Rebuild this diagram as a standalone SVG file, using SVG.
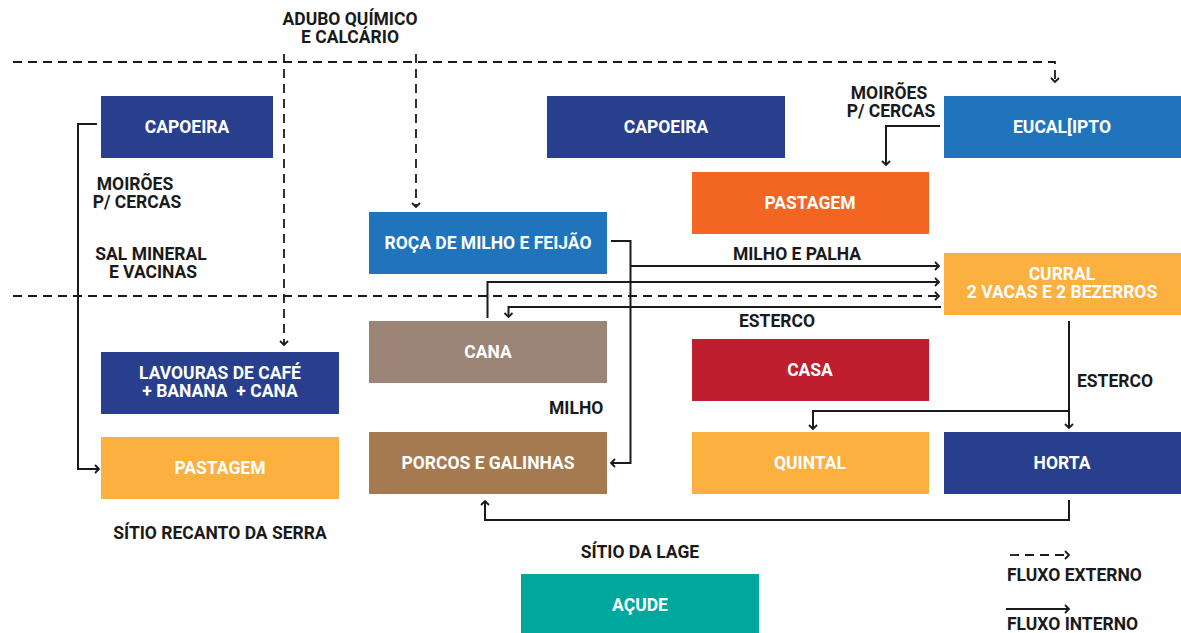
<svg xmlns="http://www.w3.org/2000/svg" width="1181" height="633" viewBox="0 0 1181 633">
<style>
text{font-family:Roboto,"Liberation Sans",sans-serif;font-weight:bold;font-size:17.5px}
.w{fill:#ffffff;text-anchor:middle}
.k{fill:#1a1a1a}
.c{text-anchor:middle}
.ln{fill:none;stroke:#1a1a1a;stroke-width:2}
.ds{fill:none;stroke:#1a1a1a;stroke-width:1.8;stroke-dasharray:9 6}
</style>
<defs>
<marker id="ah" markerUnits="userSpaceOnUse" markerWidth="12" markerHeight="12" viewBox="-6 -6 12 12" refX="0" refY="0" orient="auto">
<path d="M-4,-4 L0,0 L-4,4" fill="none" stroke="#1a1a1a" stroke-width="1.8"/>
</marker>
</defs>
<rect width="1181" height="633" fill="#ffffff"/>
<g id="connectors">
<path class="ds" d="M13,62 H1055 V82" marker-end="url(#ah)"/>
<path class="ds" d="M284,54 V345" marker-end="url(#ah)"/>
<path class="ds" d="M416,54 V207" marker-end="url(#ah)"/>
<path class="ds" d="M13,296 H939" marker-end="url(#ah)"/>
<path class="ln" d="M97,124 H78 V469 H99" marker-end="url(#ah)"/>
<path class="ln" d="M940,126 H886 V165" marker-end="url(#ah)"/>
<path class="ln" d="M611,241 H630.5 V463 H611" marker-end="url(#ah)"/>
<path class="ln" d="M630.5,266 H939" marker-end="url(#ah)"/>
<path class="ln" d="M487.5,318 V282 H939" marker-end="url(#ah)"/>
<path class="ln" d="M941,307 H508.5 V317" marker-end="url(#ah)"/>
<path class="ln" d="M1069,321 V428" marker-end="url(#ah)"/>
<path class="ln" d="M1069,411 H813 V429" marker-end="url(#ah)"/>
<path class="ln" d="M1069,500 V520 H485 V501" marker-end="url(#ah)"/>
<path class="ds" d="M1010,555 H1069" marker-end="url(#ah)"/>
<path class="ln" d="M1006,609 H1069" marker-end="url(#ah)"/>
</g>
<g id="capoeira-left"><rect x="101" y="96" width="172" height="62" fill="#273f8d"/><text class="w" x="187" y="133">CAPOEIRA</text></g>
<g id="capoeira-mid"><rect x="547" y="96" width="238" height="62" fill="#273f8d"/><text class="w" x="666" y="133">CAPOEIRA</text></g>
<g id="eucalipto"><rect x="944" y="96" width="237" height="62" fill="#1f74bb"/><text class="w" x="1062" y="133">EUCAL[IPTO</text></g>
<g id="pastagem-orange"><rect x="692" y="172" width="237" height="62" fill="#f26522"/><text class="w" x="810" y="209">PASTAGEM</text></g>
<g id="roca"><rect x="369" y="212" width="238" height="62" fill="#1f74bb"/><text class="w" x="488" y="249">ROÇA DE MILHO E FEIJÃO</text></g>
<g id="curral"><rect x="944" y="253" width="237" height="62" fill="#fbb040"/><text class="w" x="1062" y="280">CURRAL</text><text class="w" x="1062" y="298">2 VACAS E 2 BEZERROS</text></g>
<g id="cana"><rect x="369" y="321" width="238" height="62" fill="#9c8576"/><text class="w" x="488" y="358">CANA</text></g>
<g id="casa"><rect x="692" y="339" width="237" height="62" fill="#be1e2d"/><text class="w" x="810" y="376">CASA</text></g>
<g id="lavouras"><rect x="101" y="352" width="238" height="62" fill="#273f8d"/><text class="w" x="220" y="379">LAVOURAS DE CAFÉ</text><text class="w" x="220" y="397" xml:space="preserve">+ BANANA  + CANA</text></g>
<g id="pastagem-yellow"><rect x="101" y="437" width="238" height="62" fill="#fbb040"/><text class="w" x="220" y="474">PASTAGEM</text></g>
<g id="porcos"><rect x="369" y="432" width="238" height="62" fill="#a67a50"/><text class="w" x="488" y="469">PORCOS E GALINHAS</text></g>
<g id="quintal"><rect x="692" y="432" width="237" height="62" fill="#fbb040"/><text class="w" x="810" y="469">QUINTAL</text></g>
<g id="horta"><rect x="944" y="432" width="237" height="62" fill="#273f8d"/><text class="w" x="1062" y="469">HORTA</text></g>
<g id="acude"><rect x="521" y="574" width="238" height="59" fill="#00a79d"/><text class="w" x="640" y="611">AÇUDE</text></g>
<g id="labels">
<text class="k c" x="350" y="25">ADUBO QUÍMICO</text>
<text class="k c" x="350" y="43">E CALCÁRIO</text>
<text class="k c" x="135" y="190">MOIRÕES</text>
<text class="k c" x="137" y="208">P/ CERCAS</text>
<text class="k c" x="151" y="260">SAL MINERAL</text>
<text class="k c" x="153" y="278">E VACINAS</text>
<text class="k c" x="889" y="99">MOIRÕES</text>
<text class="k c" x="891" y="117">P/ CERCAS</text>
<text class="k c" x="797" y="260">MILHO E PALHA</text>
<text class="k c" x="777" y="327">ESTERCO</text>
<text class="k" x="1077" y="387">ESTERCO</text>
<text class="k" x="549" y="414">MILHO</text>
<text class="k c" x="220" y="539">SÍTIO RECANTO DA SERRA</text>
<text class="k c" x="640" y="558">SÍTIO DA LAGE</text>
<text class="k" x="1007" y="581">FLUXO EXTERNO</text>
<text class="k" x="1007" y="630">FLUXO INTERNO</text>
</g>
</svg>
